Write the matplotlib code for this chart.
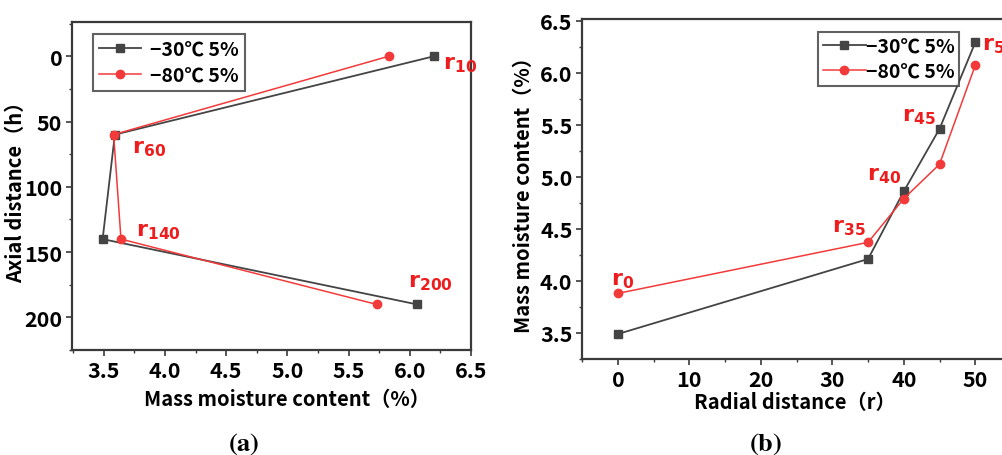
import numpy as np
import matplotlib
matplotlib.use("Agg")
import matplotlib.pyplot as plt
from matplotlib.ticker import MultipleLocator

plt.rcParams['font.family'] = ['Noto Sans CJK SC', 'DejaVu Sans']
plt.rcParams['font.weight'] = 'bold'

# (a) moisture along the axial direction
axial_h = [0, 60, 140, 190]
axial_m30 = [6.20, 3.59, 3.49, 6.06]
axial_m80 = [5.83, 3.58, 3.64, 5.73]
axial_tags = ['10', '60', '140', '200']

# (b) moisture along the radial direction
radial_r = [0, 35, 40, 45, 50]
radial_m30 = [3.49, 4.21, 4.86, 5.46, 6.29]
radial_m80 = [3.88, 4.37, 4.79, 5.12, 6.07]
radial_tags = ['0', '35', '40', '45', '50']

series_names = ['\u221230\u2103 5%', '\u221280\u2103 5%']

black = '#444444'
red = '#f23a3a'
tag_red = '#ee1c1c'
spine = '#3a3a3a'


def style_axes(ax):
    for s in ax.spines.values():
        s.set_color(spine)
        s.set_linewidth(1.6)
    ax.tick_params(which='major', direction='out', length=4, width=1.2,
                   color=spine, labelsize=15.5, pad=3)
    ax.tick_params(which='minor', direction='out', length=2.5, width=1.0, color=spine)
    for lab in ax.get_xticklabels() + ax.get_yticklabels():
        lab.set_fontweight('bold')


def tag(ax, x, y, num):
    ax.text(x, y, r'$\mathbf{r}_{\mathbf{' + num + '}}$', color=tag_red,
            fontsize=16, ha='left', va='center', math_fontfamily='dejavusans')


def style_legend(leg):
    leg.get_frame().set_edgecolor(spine)
    leg.get_frame().set_linewidth(1.5)
    for t in leg.get_texts():
        t.set_fontweight('bold')


fig = plt.figure(figsize=(10.02, 4.56), dpi=100)

# ---- panel (a)
ax1 = fig.add_axes([0.0719, 0.230, 0.398, 0.719])
ax1.plot(axial_m30, axial_h, color=black, lw=1.3, marker='s', ms=6,
         label=series_names[0])
ax1.plot(axial_m80, axial_h, color=red, lw=1.1, marker='o', ms=6,
         label=series_names[1])
ax1.set_xlim(3.24, 6.48)
ax1.set_ylim(225, -26)
ax1.xaxis.set_minor_locator(MultipleLocator(0.25))
ax1.yaxis.set_major_locator(MultipleLocator(50))
ax1.yaxis.set_minor_locator(MultipleLocator(25))
ax1.set_xticks([3.5, 4.0, 4.5, 5.0, 5.5, 6.0, 6.5])
ax1.set_xticklabels(['3.5', '4.0', '4.5', '5.0', '5.5', '6.0', '6.5'])
style_axes(ax1)
ax1.set_xlabel('Mass moisture content（%）', fontsize=14.5, fontweight='bold')
ax1.set_ylabel('Axial distance（h）', fontsize=14.5, fontweight='bold')
ax1.xaxis.set_label_coords(0.54, -0.115)
ax1.yaxis.set_label_coords(-0.115, 0.5)

tag(ax1, 6.27, 5, axial_tags[0])
tag(ax1, 3.73, 69, axial_tags[1])
tag(ax1, 3.76, 133, axial_tags[2])
tag(ax1, 5.99, 172, axial_tags[3])

leg1 = ax1.legend(loc='upper left', bbox_to_anchor=(0.052, 0.963), fontsize=14,
                  frameon=True, fancybox=False, handlelength=2.2,
                  borderpad=0.3, labelspacing=0.35, handletextpad=0.45,
                  borderaxespad=0)
style_legend(leg1)

# ---- panel (b)
ax2 = fig.add_axes([0.581, 0.2105, 0.428, 0.746])
ax2.plot(radial_r, radial_m30, color=black, lw=1.3, marker='s', ms=6,
         label=series_names[0])
ax2.plot(radial_r, radial_m80, color=red, lw=1.1, marker='o', ms=6,
         label=series_names[1])
ax2.set_xlim(-5, 55)
ax2.set_ylim(3.25, 6.516)
ax2.xaxis.set_minor_locator(MultipleLocator(5))
ax2.yaxis.set_minor_locator(MultipleLocator(0.25))
ax2.set_xticks([0, 10, 20, 30, 40, 50])
ax2.set_yticks([3.5, 4.0, 4.5, 5.0, 5.5, 6.0, 6.5])
ax2.set_yticklabels(['3.5', '4.0', '4.5', '5.0', '5.5', '6.0', '6.5'])
style_axes(ax2)
ax2.set_xlabel('Radial distance（r）', fontsize=14.5, fontweight='bold')
ax2.set_ylabel('Mass moisture content（%）', fontsize=14.5, fontweight='bold')
ax2.xaxis.set_label_coords(0.495, -0.095)
ax2.yaxis.set_label_coords(-0.112, 0.5)

tag(ax2, -0.9, 4.02, radial_tags[0])
tag(ax2, 30.0, 4.53, radial_tags[1])
tag(ax2, 34.9, 5.03, radial_tags[2])
tag(ax2, 39.8, 5.60, radial_tags[3])
tag(ax2, 51.0, 6.28, radial_tags[4])

leg2 = ax2.legend(loc='upper left', bbox_to_anchor=(0.55, 0.96), fontsize=14,
                  frameon=True, fancybox=False, handlelength=2.2,
                  borderpad=0.25, labelspacing=0.3, handletextpad=0.0,
                  borderaxespad=0)
style_legend(leg2)

# panel captions
fig.text(0.243, 0.028, r'$(\mathbf{a})$', fontsize=19, ha='center', va='center',
         math_fontfamily='stix')
fig.text(0.764, 0.028, r'$(\mathbf{b})$', fontsize=19, ha='center', va='center',
         math_fontfamily='stix')

fig.savefig('out.png', dpi=100)
